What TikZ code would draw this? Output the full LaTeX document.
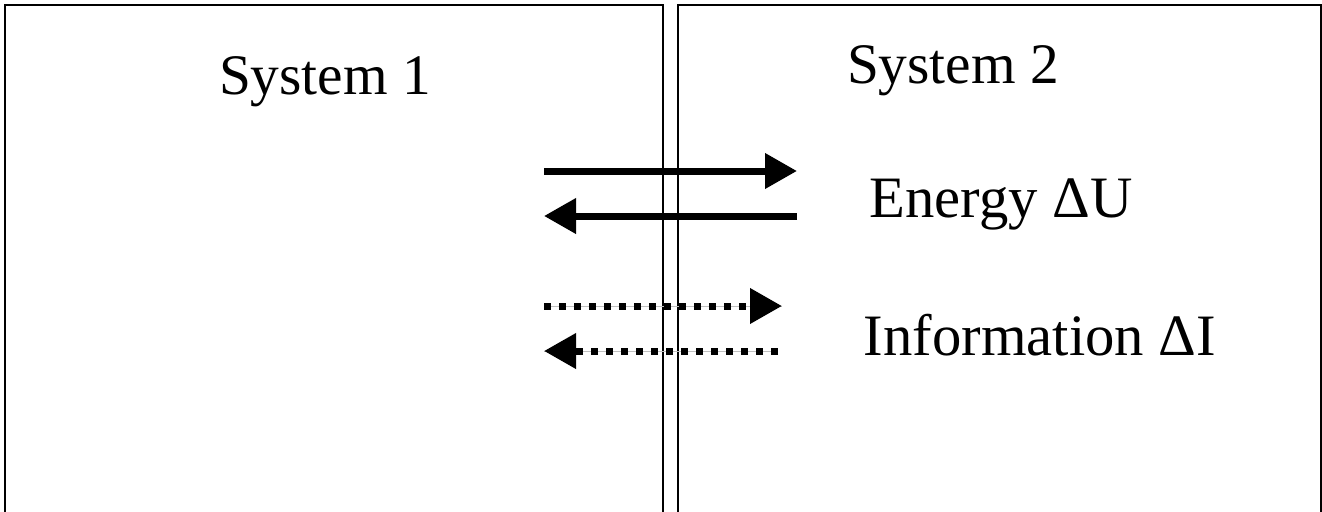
\documentclass[tikz,border=0pt]{standalone}
\usepackage{fontspec}
\setmainfont{Liberation Serif}
\usetikzlibrary{arrows.meta}
\tikzset{
  sysbox/.style={draw, line width=1.5pt},
  flow/.style={line width=5.25pt, -{Triangle[length=24pt, width=25.5pt]}},
  infoflow/.style={flow, dash pattern=on 5.25pt off 6pt,
    preaction={draw=gray!50, line width=.75pt, solid, -}},
  lbl/.style={anchor=base, inner sep=0pt, font=\fontsize{44}{50}\selectfont}
}
\begin{document}
\begin{tikzpicture}[x=.75pt, y=-.75pt]
\useasboundingbox (0,0) rectangle (1322,511);
\clip (0,0) rectangle (1322,511);
% the two systems
\draw[sysbox] (5,5) rectangle (663,530);
\draw[sysbox] (678,5) rectangle (1320.5,530);
\node[lbl, font=\fontsize{43}{50}\selectfont] (sys1) at (325,94) {System 1};
\node[lbl, font=\fontsize{43}{50}\selectfont] (sys2) at (953,83) {System 2};
% energy exchange
\coordinate (eL1) at (544,171); \coordinate (eR1) at (797,171);
\coordinate (eL2) at (544,216); \coordinate (eR2) at (797,216);
\draw[flow] (eL1)--(eR1);
\draw[flow] (eR2)--(eL2);
\node[lbl] (energy) at (1001,217) {Energy ΔU};
% information exchange
\coordinate (iL1) at (544,306); \coordinate (iR1) at (782,306);
\coordinate (iL2) at (544,351); \coordinate (iR2) at (778,351);
\draw[infoflow] (iL1)--(iR1);
\draw[infoflow] (iR2)--(iL2);
\node[lbl] (info) at (1040,355) {Information ΔI};
\end{tikzpicture}
\end{document}
